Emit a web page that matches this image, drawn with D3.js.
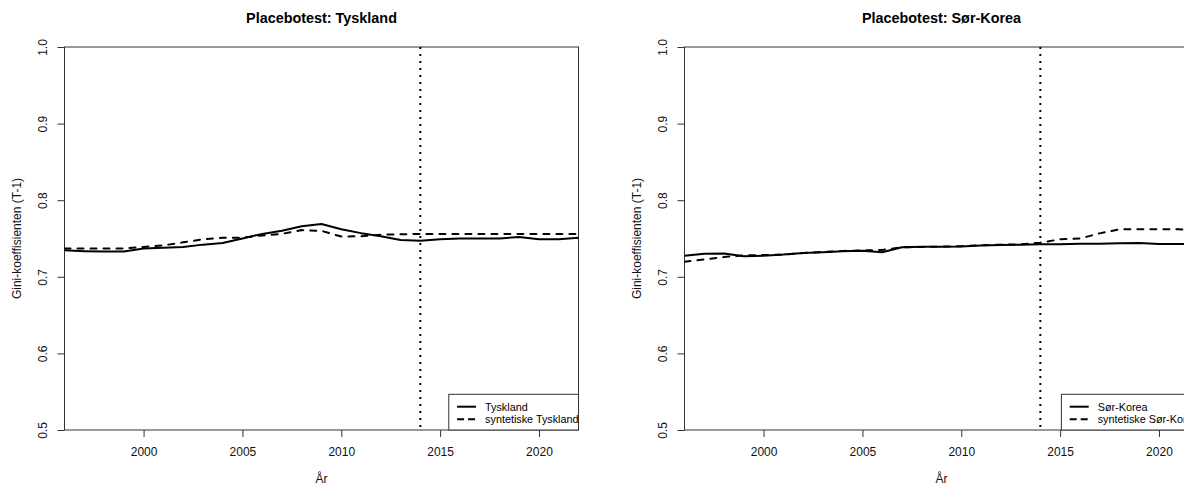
<!DOCTYPE html>
<html>
<head>
<meta charset="utf-8">
<script src="https://cdn.jsdelivr.net/npm/d3@7"></script>
<style>
  html, body { margin: 0; padding: 0; background: #fff; }
  svg { display: block; font-family: "Liberation Sans", Arial, sans-serif; }
</style>
</head>
<body>
<svg id="chart" width="1184" height="486"></svg>
<script>
// Gini-koeffisient (T-1) per år, faktisk land og syntetisk kontroll
const years = [1996, 1997, 1998, 1999, 2000, 2001, 2002, 2003, 2004, 2005, 2006, 2007, 2008,
               2009, 2010, 2011, 2012, 2013, 2014, 2015, 2016, 2017, 2018, 2019, 2020, 2021, 2022];

const tyskland = [0.7345, 0.7335, 0.733, 0.733, 0.737, 0.738, 0.739, 0.742, 0.744, 0.750, 0.756,
                  0.760, 0.766, 0.769, 0.762, 0.757, 0.753, 0.748, 0.747, 0.749, 0.750, 0.750,
                  0.750, 0.752, 0.749, 0.749, 0.751];
const syntetiskeTyskland = [0.737, 0.737, 0.737, 0.737, 0.739, 0.741, 0.745, 0.749, 0.751, 0.751,
                  0.754, 0.756, 0.761, 0.760, 0.7525, 0.753, 0.755, 0.7555, 0.756, 0.756, 0.756,
                  0.756, 0.756, 0.756, 0.756, 0.756, 0.756];

const sorKorea = [0.7276, 0.730, 0.7305, 0.7267, 0.7276, 0.729, 0.731, 0.732, 0.7333, 0.734, 0.732,
                  0.7385, 0.7393, 0.7393, 0.7395, 0.741, 0.7415, 0.742, 0.7424, 0.7425, 0.743,
                  0.743, 0.7437, 0.744, 0.7428, 0.7428, 0.7428];
const syntetiskeSorKorea = [0.7197, 0.7228, 0.7258, 0.728, 0.7285, 0.729, 0.731, 0.7325, 0.7338,
                  0.7345, 0.735, 0.7385, 0.739, 0.7395, 0.740, 0.741, 0.742, 0.7424, 0.7446, 0.749,
                  0.750, 0.7567, 0.762, 0.762, 0.762, 0.762, 0.761];

const xTicks = [2000, 2005, 2010, 2015, 2020];
const yTicks = [0.5, 0.6, 0.7, 0.8, 0.9, 1.0];
const xDomain = [1996, 2022];
const yDomain = [0.5, 1.0];
const treatmentYear = 2014;

const panels = [
  { title: "Placebotest: Tyskland", actual: tyskland, synth: syntetiskeTyskland,
    labels: ["Tyskland", "syntetiske Tyskland"] },
  { title: "Placebotest: Sør-Korea", actual: sorKorea, synth: syntetiskeSorKorea,
    labels: ["Sør-Korea", "syntetiske Sør-Korea"] }
];

// panel geometry
const panelWidth = 620;
const plotLeft = 64.5, plotRight = 578.5, plotTop = 47, plotBottom = 430;
const ink = "#333";

const svg = d3.select("#chart");
svg.append("rect").attr("width", 1184).attr("height", 486).attr("fill", "#fff");

const x = d3.scaleLinear().domain(xDomain).range([plotLeft, plotRight]);
const y = d3.scaleLinear().domain(yDomain).range([plotBottom, plotTop]);

panels.forEach((p, i) => {
  const g = svg.append("g").attr("transform", `translate(${i * panelWidth},0)`);
  const clipId = "clip" + i;
  g.append("clipPath").attr("id", clipId).append("rect")
    .attr("x", plotLeft).attr("y", plotTop)
    .attr("width", plotRight - plotLeft).attr("height", plotBottom - plotTop);

  // title
  g.append("text")
    .attr("x", (plotLeft + plotRight) / 2).attr("y", 23)
    .attr("text-anchor", "middle")
    .attr("font-size", "14.4px").attr("font-weight", "bold").attr("fill", "#000")
    .text(p.title);

  // x axis
  const xAxis = g.append("g").attr("transform", `translate(0,${plotBottom})`)
    .call(d3.axisBottom(x).tickValues(xTicks).tickFormat(d3.format("d"))
      .tickSize(7).tickSizeOuter(0).tickPadding(10.5));
  xAxis.select(".domain").remove();
  xAxis.selectAll(".tick line").attr("stroke", ink);
  xAxis.selectAll("text").attr("font-size", "12px").attr("fill", "#111")
    .attr("font-family", "Liberation Sans, Arial, sans-serif");

  // y axis with rotated labels
  const yAxis = g.append("g").attr("transform", `translate(${plotLeft},0)`)
    .call(d3.axisLeft(y).tickValues(yTicks).tickFormat(d3.format(".1f"))
      .tickSize(7).tickSizeOuter(0));
  yAxis.select(".domain").remove();
  yAxis.selectAll(".tick line").attr("stroke", ink);
  yAxis.selectAll("text")
    .attr("x", null).attr("dy", null)
    .attr("text-anchor", "middle")
    .attr("transform", "translate(-17.5,0) rotate(-90)")
    .attr("font-size", "12px").attr("fill", "#111")
    .attr("font-family", "Liberation Sans, Arial, sans-serif");

  // box around plot region
  g.append("rect")
    .attr("x", plotLeft).attr("y", plotTop)
    .attr("width", plotRight - plotLeft).attr("height", plotBottom - plotTop)
    .attr("fill", "none").attr("stroke", ink).attr("stroke-width", 1);

  // axis titles
  g.append("text")
    .attr("x", (plotLeft + plotRight) / 2).attr("y", 483)
    .attr("text-anchor", "middle").attr("font-size", "12px").attr("fill", "#111")
    .text("År");
  g.append("text")
    .attr("transform", `translate(21,${(plotTop + plotBottom) / 2}) rotate(-90)`)
    .attr("text-anchor", "middle").attr("font-size", "12px").attr("fill", "#111")
    .text("Gini-koeffisienten (T-1)");

  const plot = g.append("g").attr("clip-path", `url(#${clipId})`);

  const line = d3.line().x((d, k) => x(years[k])).y(d => y(d));

  plot.append("path").datum(p.actual)
    .attr("d", line).attr("fill", "none")
    .attr("stroke", "#000").attr("stroke-width", 2)
    .attr("stroke-linejoin", "round").attr("stroke-linecap", "round");

  plot.append("path").datum(p.synth)
    .attr("d", line).attr("fill", "none")
    .attr("stroke", "#000").attr("stroke-width", 2)
    .attr("stroke-dasharray", "6,7")
    .attr("stroke-linejoin", "round").attr("stroke-linecap", "round");

  // treatment year marker
  plot.append("line")
    .attr("x1", x(treatmentYear)).attr("x2", x(treatmentYear))
    .attr("y1", plotTop).attr("y2", plotBottom)
    .attr("stroke", "#000").attr("stroke-width", 2)
    .attr("stroke-dasharray", "2,5");

  // legend anchored to the bottom-right corner
  const leg = g.append("g");
  const legTop = 394.3;
  const texts = p.labels.map((lab, k) =>
    leg.append("text")
      .attr("y", legTop + 12.4 + k * 12.6 + 3.8)
      .attr("font-size", "10.8px").attr("fill", "#000")
      .text(lab));
  const maxW = d3.max(texts, t => t.node().getComputedTextLength());
  const legW = 36.3 + maxW;
  const legLeft = plotRight - legW;
  leg.insert("rect", ":first-child")
    .attr("x", legLeft).attr("y", legTop)
    .attr("width", legW).attr("height", plotBottom - legTop)
    .attr("fill", "#fff").attr("stroke", ink).attr("stroke-width", 1);
  texts.forEach(t => t.attr("x", legLeft + 36.3));
  p.labels.forEach((lab, k) => {
    const ly = legTop + 12.4 + k * 12.6;
    const ln = leg.append("line")
      .attr("x1", legLeft + 8.3).attr("x2", legLeft + 27.3)
      .attr("y1", ly).attr("y2", ly)
      .attr("stroke", "#000").attr("stroke-width", 2);
    if (k === 1) ln.attr("stroke-dasharray", "7,4");
  });
});
</script>
</body>
</html>
